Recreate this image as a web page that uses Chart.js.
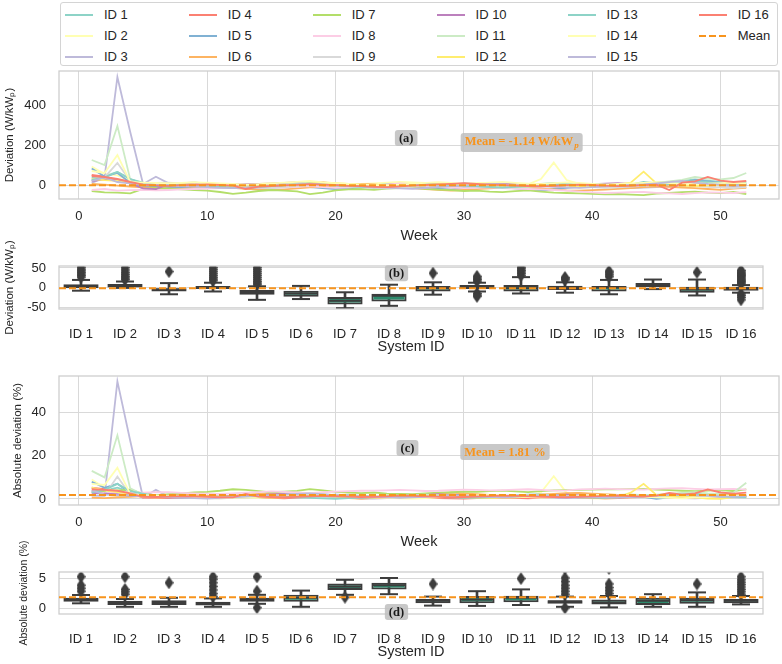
<!DOCTYPE html>
<html>
<head>
<meta charset="utf-8">
<script src="https://cdn.jsdelivr.net/npm/chart.js@4.4.1/dist/chart.umd.min.js"></script>
<style>
  body { margin: 0; background: #fff; font-family: "Liberation Sans", Arial, sans-serif; }
  #page { position: relative; width: 782px; height: 664px; overflow: hidden; }
  .panel { position: absolute; left: 0; width: 782px; }
  #legend {
    position: absolute; left: 60px; top: 2px; width: 718px; height: 64px; box-sizing: border-box;
    border: 1px solid #d4d4d4; border-radius: 3px; padding: 1px 0 0 4px;
    display: grid; grid-template-rows: repeat(3, 21px); grid-auto-flow: column;
    grid-auto-columns: max-content; column-gap: 61px;
  }
  .item { display: flex; align-items: center; font-size: 13px; color: #262626; }
  .swatch { width: 28px; height: 2px; margin-right: 11px; }
</style>
</head>
<body>
<div id="page">
  <div id="legend"></div>
  <div class="panel" style="top:66px;height:179px"><canvas id="chartA"></canvas></div>
  <div class="panel" style="top:228px;height:129px"><canvas id="chartB"></canvas></div>
  <div class="panel" style="top:360px;height:193px"><canvas id="chartC"></canvas></div>
  <div class="panel" style="top:530px;height:134px"><canvas id="chartD"></canvas></div>
</div>
<script>
// Data

const weeks = [1, 2, 3, 4, 5, 6, 7, 8, 9, 10, 11, 12, 13, 14, 15, 16, 17, 18, 19, 20, 21, 22, 23, 24, 25, 26,
  27, 28, 29, 30, 31, 32, 33, 34, 35, 36, 37, 38, 39, 40, 41, 42, 43, 44, 45, 46, 47, 48, 49, 50, 51, 52];
const weekTicks = [0, 10, 20, 30, 40, 50];
const systemIds = ["ID 1", "ID 2", "ID 3", "ID 4", "ID 5", "ID 6", "ID 7", "ID 8",
  "ID 9", "ID 10", "ID 11", "ID 12", "ID 13", "ID 14", "ID 15", "ID 16"];
const palette = ["#8dd3c7", "#ffffb3", "#bebada", "#fb8072", "#80b1d3", "#fdb462", "#b3de69", "#fccde5",
  "#d9d9d9", "#bc80bd", "#ccebc5", "#ffed6f", "#8dd3c7", "#ffffb3", "#bebada", "#fb8072"];

const meanDev = -1.14;
const meanAbs = 1.81;
const devTicks = [0, 200, 400];
const devBoxTicks = [-50, 0, 50];
const absTicks = [0, 20, 40];
const absBoxTicks = [0, 5];

// weekly deviation (W/kWp)
const dev1 = [35, 45, 65, 30, 5, 10, 8, 6, 4, 2, -1, -3, 0, 3, 5, 9, 12, 2, -2, -4, -5, 0, 4, 7, 10, 6, 1, -2, 3, 8, 5, 2, -1, 0, 3, 6, 9, 4, 1, -3, -6, -2, 3, 8, 12, 15, 20, 28, 22, 16, 10, 14];
const dev2 = [92, 55, 48, 22, 8, 6, 7, 9, 10, 12, 8, 5, 3, 6, 9, 11, 14, 10, 6, 4, 2, 5, 8, 12, 15, 13, 10, 7, 4, 6, 9, 11, 8, 5, 3, 30, 112, 25, 6, 2, 1, 3, 5, 7, 4, 2, 6, 10, 13, 9, 5, 3];
const dev3 = [10, 38, 540, 265, 5, 41, 8, 2, -2, -5, -8, -10, -6, -3, 0, 4, 12, 2, -4, -7, -9, -12, -6, -3, -1, -4, -8, -10, -5, -2, 0, -3, -6, -9, -11, -8, -4, -1, 3, 5, -2, -6, -16, -13, -10, -7, -4, -2, 2, -3, -6, -9];
const dev4 = [50, 42, 25, 18, 0, -3, 1, 4, 3, 5, 2, -2, -9, -5, 0, 3, 6, 9, 13, 7, 2, -1, -3, 1, 5, 3, -2, -6, -3, 0, 2, 4, 1, -1, 2, 5, 3, 0, -2, -4, -1, 2, 4, 8, 5, 1, -2, 0, 3, 6, 2, -1];
const dev5 = [83, 42, 60, 12, -5, -8, -10, -12, -14, -9, -6, -11, -15, -18, -13, -8, -5, -10, -16, -20, -17, -12, -9, -6, -4, -8, -13, -18, -22, -15, -10, -7, -12, -17, -21, -30, -19, -14, -9, -6, -3, -8, -12, -5, 3, 0, 8, 25, 18, 10, -2, 5];
const dev6 = [5, 2, -3, -8, -12, -15, -18, -20, -16, -12, -9, -14, -19, -23, -26, -22, -17, -12, -8, -5, -2, 5, 3, -4, -10, -15, -20, -24, -28, -25, -21, -17, -13, -10, -14, -18, -22, -27, -28, -26, -23, -19, -15, -11, -7, -9, -13, -16, -20, -24, -18, -14];
const dev7 = [-30, -37, -38, -42, -20, -15, -18, -22, -25, -28, -35, -44, -38, -30, -25, -28, -32, -46, -38, -27, -22, -20, -24, -18, -16, -14, -19, -23, -26, -30, -28, -33, -36, -31, -27, -33, -38, -40, -42, -44, -47, -45, -48, -51, -43, -40, -36, -33, -38, -41, -35, -45];
const dev8 = [-25, -20, -28, -26, -24, -27, -25, -22, -20, -18, -15, -12, -10, -14, -16, -13, -9, -5, -11, -14, -12, -8, -4, 2, 8, 4, -3, -10, -13, -16, -14, -12, -15, -18, -20, -22, -25, -28, -33, -37, -40, -38, -36, -35, -39, -42, -45, -41, -37, -38, -40, -36];
const dev9 = [30, 38, 110, 20, 5, 10, 12, 8, 14, 3, -2, -6, -9, -12, -15, -10, -5, 0, 3, -4, -8, -12, -16, -17, -14, -9, -4, 0, 2, -1, -5, -9, -13, -11, -7, -3, 1, -2, -6, -10, -14, -12, -8, -4, 0, 3, -1, -5, -9, -12, -15, -10];
const dev10 = [20, 28, 24, 8, -17, -21, 4, 6, 2, -1, -3, 0, 3, 5, 7, 10, 13, 12, 6, 2, -2, -5, -9, -4, 1, 4, 7, 5, 2, 0, 3, 6, 8, 5, 2, -1, -3, 0, 2, 4, 7, 9, 6, 3, 1, -2, 0, 3, 5, 2, -1, 2];
const dev11 = [125, 100, 295, 28, 10, 6, 2, -3, -7, -10, -12, -14, -9, -5, -1, 3, 8, 12, 7, 1, -3, -6, -9, -11, -8, -4, 0, 4, 1, -2, -5, -8, -10, -12, -9, -6, -3, 0, 3, 6, 2, -2, -5, 4, 10, 18, 25, 40, 32, 28, 35, 60];
const dev12 = [29, 24, 21, 10, 3, 5, 7, 4, 1, -2, -5, -8, -11, -6, -2, 1, 4, 8, 13, 9, 5, 2, 0, -3, -5, -1, 3, 6, 4, 1, -2, -4, -1, 2, 5, 3, 0, -3, -6, -4, -1, 2, 12, 67, 8, 1, -3, -5, -2, 1, 4, 2];
const dev13 = [25, 38, 65, 30, 12, 8, 4, 0, -3, -6, -9, -12, -16, -10, -5, -1, 3, 7, 2, -2, -6, -9, -12, -8, -4, 0, 4, 2, -1, -4, -7, -10, -13, -9, -5, -1, 3, 5, 1, -2, -6, -3, 2, 15, 8, 5, 10, 20, 14, 6, -1, 3];
const dev14 = [70, 60, 150, 15, 12, 10, 8, 11, 14, 9, 6, 3, 1, 4, 8, 12, 16, 21, 13, 9, 5, 2, -1, -3, 2, 7, 11, 14, 10, 6, 8, 12, 15, 11, 7, 4, 9, 13, 10, 6, 2, 5, 8, 11, 14, 10, 6, 3, 7, 9, 12, 8];
const dev15 = [20, 38, 15, 8, 3, 0, -2, -5, -8, -11, -14, -16, -12, -8, -4, 0, 3, 6, 2, -1, -4, -7, -10, -13, -17, -19, -15, -10, -6, -2, 1, 4, 2, -1, -3, -6, -9, -12, -14, -11, -7, -3, 0, 3, 8, 14, 21, 12, 6, 2, -2, 1];
const dev16 = [45, 40, 30, 15, 2, -2, -4, -1, 1, 3, 0, -3, -20, -8, -5, -2, 1, 4, 2, -1, -4, -6, -9, -11, -7, -3, 0, 3, 6, 9, 5, 2, -1, -3, -5, -7, -4, -1, 2, 0, -3, -6, -4, -1, 2, -25, 12, 18, 40, 22, 15, 20];

// weekly absolute deviation (%)
const abs1 = [3.6, 4.0, 5.2, 3.3, 1.2, 1.5, 1.4, 1.3, 1.1, 0.9, 1.0, 1.2, 1.4, 1.6, 1.8, 2.0, 2.2, 1.7, 1.5, 1.3, 1.1, 0.8, 1.0, 1.3, 1.6, 1.9, 1.7, 1.4, 1.2, 1.0, 1.1, 1.3, 1.5, 1.4, 1.2, 1.6, 1.8, 1.5, 1.3, 1.1, 0.9, 1.0, 1.2, 1.5, 1.7, 1.9, 2.1, 2.2, 1.8, 1.6, 1.4, 1.7];
const abs2 = [9.0, 5.2, 3.4, 2.4, 1.0, 0.8, 0.7, 0.9, 1.1, 1.2, 1.0, 0.8, 0.6, 0.5, 0.7, 0.9, 1.1, 1.3, 1.0, 0.7, 0.4, 0.3, 0.6, 0.9, 1.2, 1.4, 1.1, 0.8, 0.5, 0.4, 0.6, 0.9, 1.1, 0.8, 0.5, 3.0, 10.5, 2.8, 0.6, 0.3, 0.2, 0.4, 0.7, 1.0, 1.2, 0.9, 0.6, 0.8, 1.1, 1.3, 1.5, 1.0];
const abs3 = [1.6, 1.4, 54.5, 27.0, 0.6, 4.2, 1.0, 0.8, 0.6, 0.4, 0.3, 0.5, 0.8, 1.1, 1.3, 1.5, 1.7, 1.2, 0.9, 0.7, 0.5, 0.3, 0.2, 0.4, 0.7, 1.0, 1.2, 1.4, 1.1, 0.8, 0.6, 0.9, 1.2, 1.3, 1.0, 0.7, 0.5, 0.4, 0.6, 0.9, 1.1, 1.3, 1.5, 1.2, 0.9, 0.6, 0.4, 0.3, 0.5, 0.8, 1.0, 1.2];
const abs4 = [5.2, 4.6, 3.5, 2.6, 0.6, 0.5, 0.4, 0.7, 0.9, 1.0, 0.8, 0.6, 1.9, 0.9, 0.5, 0.3, 0.6, 1.0, 1.4, 0.8, 0.5, 0.3, 0.4, 0.6, 0.9, 1.1, 0.7, 0.4, 0.3, 0.2, 0.4, 0.6, 0.8, 0.5, 0.3, 0.6, 0.9, 1.1, 0.8, 0.5, 0.3, 0.4, 0.7, 1.0, 1.2, 0.8, 0.5, 0.7, 0.9, 1.3, 1.6, 0.9];
const abs5 = [8.0, 5.2, 7.0, 2.8, 1.2, 1.0, 1.3, 1.5, 1.6, 1.4, 1.1, 1.3, 1.6, 1.8, 1.5, 1.2, 1.0, 1.3, 1.7, 2.0, 1.8, 1.4, 1.1, 0.9, 0.7, 1.0, 1.4, 1.8, 2.2, 1.6, 1.2, 1.0, 1.3, 1.7, 2.0, 2.1, 1.8, 1.5, 1.2, 0.9, 0.8, 1.1, 1.4, 1.0, 0.05, 0.8, 1.2, 2.2, 1.9, 1.4, 1.1, 1.5];
const abs6 = [0.6, 0.4, 0.8, 1.0, 1.3, 1.6, 1.9, 2.1, 1.8, 1.4, 1.1, 1.5, 2.0, 2.3, 2.6, 2.2, 1.8, 1.4, 1.0, 0.7, 0.4, 0.2, 0.5, 0.9, 1.3, 1.7, 2.1, 2.4, 2.9, 2.6, 2.2, 1.9, 1.5, 1.2, 1.6, 2.0, 2.3, 2.7, 2.8, 2.5, 2.2, 1.9, 1.6, 1.2, 0.9, 1.1, 1.4, 1.7, 2.0, 2.3, 1.9, 1.6];
const abs7 = [3.2, 3.7, 4.0, 4.3, 2.4, 1.8, 2.2, 2.6, 3.0, 3.3, 3.8, 4.5, 4.2, 3.6, 3.1, 3.4, 3.7, 4.6, 4.0, 3.3, 2.9, 2.7, 3.0, 2.5, 2.3, 2.2, 2.6, 2.9, 3.1, 3.4, 3.3, 3.6, 3.9, 3.5, 3.2, 3.6, 4.0, 4.1, 4.2, 4.3, 4.5, 4.4, 4.6, 4.7, 4.3, 4.1, 3.8, 3.6, 3.9, 4.1, 3.7, 4.4];
const abs8 = [3.0, 2.6, 3.3, 3.1, 2.9, 3.2, 3.1, 2.8, 2.6, 2.5, 2.3, 2.6, 2.9, 3.2, 3.5, 3.3, 3.0, 2.7, 3.1, 3.4, 3.6, 3.8, 3.9, 4.0, 4.2, 4.0, 3.7, 3.8, 4.1, 4.3, 4.2, 4.0, 4.1, 4.3, 4.5, 4.2, 3.9, 4.0, 4.4, 4.6, 4.8, 4.6, 4.4, 4.3, 4.7, 4.9, 5.0, 4.7, 4.4, 4.5, 4.7, 4.3];
const abs9 = [4.0, 1.8, 10.4, 1.9, 1.2, 1.4, 1.5, 1.3, 1.1, 0.9, 0.8, 1.0, 1.2, 1.4, 1.6, 1.3, 1.1, 0.9, 0.7, 0.5, 0.4, 0.6, 0.8, 1.0, 1.2, 1.3, 1.1, 0.9, 1.0, 1.2, 1.4, 1.5, 1.3, 1.1, 0.9, 0.8, 1.0, 1.2, 1.4, 1.6, 1.8, 1.5, 1.3, 1.1, 0.9, 1.0, 1.2, 1.4, 1.5, 1.3, 1.1, 1.2];
const abs10 = [2.8, 2.5, 2.2, 1.6, 1.2, 1.0, 0.8, 0.6, 0.4, 0.6, 0.9, 1.2, 1.5, 1.8, 2.1, 2.4, 2.0, 1.7, 1.4, 1.1, 0.8, 0.5, 0.7, 1.0, 1.3, 1.6, 1.9, 2.2, 1.8, 1.5, 1.2, 0.9, 0.7, 0.9, 1.2, 1.5, 1.8, 2.0, 1.7, 1.4, 1.1, 0.8, 1.0, 1.3, 1.6, 1.9, 2.1, 1.8, 1.4, 1.2, 1.0, 1.3];
const abs11 = [13.0, 10.0, 29.5, 4.9, 2.0, 1.6, 1.3, 1.0, 0.8, 0.6, 0.5, 0.7, 1.0, 1.3, 1.6, 1.9, 2.2, 2.5, 2.1, 1.8, 1.5, 1.2, 0.9, 1.1, 1.4, 1.7, 2.0, 1.8, 1.5, 1.2, 1.0, 0.9, 1.2, 1.5, 1.8, 2.0, 1.7, 1.4, 1.1, 1.3, 1.6, 1.9, 2.1, 1.8, 2.0, 2.4, 2.8, 3.1, 2.6, 2.3, 2.9, 7.5];
const abs12 = [5.2, 4.0, 3.2, 2.5, 1.0, 0.8, 0.9, 1.1, 1.2, 1.0, 0.8, 0.7, 1.1, 0.9, 0.6, 0.7, 1.0, 1.2, 1.4, 1.1, 0.9, 0.7, 0.6, 0.8, 1.0, 1.2, 1.3, 1.1, 0.9, 0.7, 0.5, 0.4, 0.6, 0.8, 1.0, 1.2, 1.3, 1.1, 0.9, 0.7, 0.6, 0.8, 2.9, 7.0, 1.9, 1.2, 1.0, 0.8, 0.2, 0.0, 0.9, 1.1];
const abs13 = [3.0, 4.2, 7.0, 3.6, 2.5, 1.2, 0.9, 0.7, 0.5, 0.4, 0.6, 0.8, 1.0, 1.3, 1.1, 0.9, 0.7, 0.5, 0.3, 0.1, 0.4, 0.6, 0.8, 1.0, 1.2, 1.4, 1.1, 0.9, 0.7, 0.5, 0.6, 0.8, 1.0, 1.2, 1.4, 1.6, 1.3, 1.0, 0.8, 0.6, 0.5, 0.7, 0.9, 1.1, 1.4, 2.0, 1.8, 2.3, 1.5, 1.2, 0.9, 0.8];
const abs14 = [7.0, 6.5, 14.5, 2.2, 1.8, 1.5, 1.2, 0.9, 0.6, 0.4, 0.3, 0.5, 0.8, 1.1, 1.4, 1.7, 2.0, 2.3, 1.9, 1.6, 1.3, 1.0, 0.7, 0.5, 0.3, 0.2, 0.4, 0.7, 1.0, 1.3, 1.6, 1.8, 1.5, 1.2, 0.9, 0.6, 0.8, 1.1, 1.4, 1.7, 2.0, 1.7, 1.4, 1.1, 0.8, 0.5, 0.3, 0.6, 0.9, 1.2, 1.5, 1.3];
const abs15 = [4.0, 2.0, 1.8, 1.5, 1.2, 1.0, 0.8, 0.6, 0.4, 0.2, 0.5, 0.8, 1.1, 1.4, 1.7, 2.0, 2.3, 2.6, 2.2, 1.8, 1.5, 1.2, 0.9, 0.7, 0.5, 0.7, 1.0, 1.3, 1.6, 1.4, 1.2, 1.0, 0.8, 1.1, 1.4, 1.7, 1.5, 1.3, 1.1, 0.9, 0.7, 0.6, 0.9, 1.2, 1.5, 1.8, 2.1, 1.7, 1.4, 1.2, 1.0, 1.3];
const abs16 = [4.5, 4.2, 3.8, 2.6, 1.0, 0.9, 1.1, 1.3, 1.2, 1.0, 0.8, 0.7, 2.3, 1.1, 0.9, 0.8, 1.0, 1.2, 1.4, 1.3, 1.1, 0.9, 1.0, 1.2, 1.5, 1.4, 1.2, 1.0, 0.8, 0.9, 1.1, 1.3, 1.5, 1.4, 1.2, 1.0, 0.9, 0.8, 1.0, 1.2, 1.4, 1.6, 1.3, 1.1, 1.5, 2.8, 2.0, 2.6, 4.4, 3.0, 2.5, 2.9];

// boxplot summaries per system (deviation, W/kWp)
const devLo = [-7, 0, -16, -9, -30, -28, -51, -45, -17, -9, -14, -12, -16, -3, -19, -12];
const devQ1 = [-1, 1, -9, -3, -17, -22, -42, -34, -9, -3, -9, -5, -9, 2, -12, -7];
const devMed = [3, 6, -4, 1, -10, -14, -32, -20, -1, 2.5, -1, 1.5, 1, 8, -4, -1];
const devQ3 = [9, 10, -1, 5, -5, -7, -23, -15, 5, 7, 7, 5.5, 5, 12, 3, 3];
const devHi = [20, 16, 12, 13, 4, 5, -11, 8, 14, 13, 27, 14, 20, 21, 21, 7];
const devOutliers = [
  [27, 31, 35, 39, 43, 47, 52], [21, 25, 29, 34, 39, 45, 51], [41], [18, 22, 26, 31, 36, 41, 46, 51],
  [8, 12, 16, 21, 26, 31, 36, 41, 46, 51], [], [], [],
  [37], [17, 21, 25, 29, -14, -18, -21], [31, 36, 40, 44, 48, 52], [20, 23, 26],
  [28, 33, 38, 42], [], [39], [10, 13, 16, 19, 22, 25, 28, 31, 34, 37, 40, 44, -15, -19, -24, -30]
];

// boxplot summaries per system (absolute deviation, %)
const absLo = [0.78, 0.2, 0.2, 0.2, 0.7, 0.2, 2.2, 2.3, 0.4, 0.35, 0.5, 0.2, 0.1, 0.2, 0.2, 0.6];
const absQ1 = [1.06, 0.5, 0.5, 0.4, 1.06, 1.06, 3.0, 3.1, 0.8, 0.8, 0.95, 0.7, 0.6, 0.5, 0.7, 0.8];
const absMed = [1.44, 0.9, 0.95, 0.78, 1.4, 1.7, 3.6, 3.8, 1.2, 1.4, 1.7, 1.1, 0.9, 1.2, 1.3, 1.2];
const absQ3 = [1.72, 1.2, 1.3, 1.06, 1.72, 2.2, 4.1, 4.2, 1.5, 2.0, 2.05, 1.3, 1.4, 1.7, 1.7, 1.5];
const absHi = [2.17, 1.5, 1.7, 1.6, 2.2, 2.9, 4.7, 5.0, 1.9, 2.8, 3.1, 1.9, 2.0, 2.3, 2.6, 2.0];
const absOutliers = [
  [2.8, 3.3, 3.8, 5.2], [2.3, 2.7, 3.1, 5.2], [4.2], [1.9, 2.4, 3.0, 3.6, 4.2, 4.8, 5.2],
  [2.8, 5.2, 0.05], [], [1.8], [],
  [4.0], [], [4.9], [2.3, 2.8, 3.3, 3.8, 4.4, 5.0, 6.6, 0.0],
  [2.4, 2.9, 3.4, 4.0, 6.6], [], [4.0], [2.3, 2.7, 3.1, 3.5, 3.9, 4.3, 4.7, 5.2]
];

const devSeries = [dev1, dev2, dev3, dev4, dev5, dev6, dev7, dev8, dev9, dev10, dev11, dev12, dev13, dev14, dev15, dev16];
const absSeries = [abs1, abs2, abs3, abs4, abs5, abs6, abs7, abs8, abs9, abs10, abs11, abs12, abs13, abs14, abs15, abs16];

// Styles

const sans = '"Liberation Sans", Arial, sans-serif';
const serif = '"Liberation Serif", "Times New Roman", serif';
const ink = "#262626";
const gridColor = "#d9d9d9";
const frameColor = "#cccccc";
const boxFill = "#2d8a6c";
const boxEdge = "#3d3d3d";
const meanColor = "#f7941d";

Chart.defaults.font.family = sans;
Chart.defaults.color = ink;
Chart.defaults.animation = false;

// thin diamond used for the fliers
const diamond = document.createElement("canvas");
diamond.width = 9;
diamond.height = 13;
const dctx = diamond.getContext("2d");
dctx.fillStyle = boxEdge;
dctx.beginPath();
dctx.moveTo(4.5, 0);
dctx.lineTo(9, 6.5);
dctx.lineTo(4.5, 13);
dctx.lineTo(0, 6.5);
dctx.closePath();
dctx.fill();

// Plugins

const framePlugin = {
  id: "frame",
  afterDatasetsDraw(chart) {
    const { ctx, chartArea: a } = chart;
    ctx.save();
    ctx.strokeStyle = frameColor;
    ctx.lineWidth = 1.25;
    ctx.strokeRect(a.left, a.top, a.right - a.left, a.bottom - a.top);
    ctx.restore();
  },
};

const meanPlugin = {
  id: "meanLine",
  afterDatasetsDraw(chart, args, opts) {
    const { ctx, chartArea: a, scales } = chart;
    const py = scales.y.getPixelForValue(opts.value);
    ctx.save();
    ctx.strokeStyle = meanColor;
    ctx.lineWidth = 2;
    ctx.setLineDash([7, 3]);
    ctx.beginPath();
    ctx.moveTo(a.left, py);
    ctx.lineTo(a.right, py);
    ctx.stroke();
    ctx.restore();
  },
};

const notesPlugin = {
  id: "notes",
  afterDraw(chart, args, opts) {
    const { ctx, scales } = chart;
    (opts.items || []).forEach((n) => {
      const px = scales.x.getPixelForValue(n.x);
      const py = scales.y.getPixelForValue(n.y);
      const main = `bold 12.5px ${serif}`;
      const small = `italic bold 9px ${serif}`;
      ctx.save();
      ctx.font = main;
      const w1 = ctx.measureText(n.text).width;
      let w2 = 0;
      if (n.sub) {
        ctx.font = small;
        w2 = ctx.measureText(n.sub).width + 1;
      }
      const w = w1 + w2 + 8;
      const h = n.sub ? 19 : 16;
      const left = px - w / 2;
      ctx.fillStyle = "rgba(190,190,190,0.85)";
      ctx.beginPath();
      ctx.roundRect(left, py - h / 2, w, h, 3);
      ctx.fill();
      ctx.fillStyle = n.color || "#1a1a1a";
      ctx.textBaseline = "middle";
      ctx.textAlign = "left";
      ctx.font = main;
      ctx.fillText(n.text, left + 4, n.sub ? py - 1 : py + 0.5);
      if (n.sub) {
        ctx.font = small;
        ctx.fillText(n.sub, left + 4 + w1 + 1, py + 3.5);
      }
      ctx.restore();
    });
  },
};

// Chart builders

const fixedTicks = (values) => (scale) => {
  scale.ticks = values.map((v) => ({ value: v }));
};

const yScale = (p) => ({
  type: "linear",
  min: p.yMin,
  max: p.yMax,
  afterBuildTicks: fixedTicks(p.yTicks),
  afterFit: (scale) => {
    scale.width = 59;
    scale.paddingTop = 0;
    scale.paddingBottom = 0;
  },
  grid: { color: gridColor, lineWidth: 1, drawTicks: false },
  border: { display: false },
  ticks: { padding: 13, color: ink, font: { size: 13 } },
  title: {
    display: true,
    text: p.yTitle,
    color: ink,
    font: { size: p.yTitleSize || 11.5 },
    padding: { top: p.yTitlePad, bottom: 0 },
  },
});

const xTitle = (text, pad) => ({
  display: true,
  text: text,
  color: ink,
  font: { size: 14.5 },
  padding: { top: 0, bottom: pad },
});

const makeLineChart = (id, series, p) =>
  new Chart(document.getElementById(id), {
    type: "line",
    data: {
      datasets: series.map((vals, i) => ({
        label: systemIds[i],
        data: vals.map((v, j) => ({ x: weeks[j], y: v })),
        borderColor: palette[i],
        backgroundColor: palette[i],
        borderWidth: 1.8,
        pointRadius: 0,
        order: series.length - i,
      })),
    },
    options: {
      responsive: true,
      maintainAspectRatio: false,
      events: [],
      layout: { padding: { top: p.padTop, right: 3, left: 0, bottom: 0 } },
      plugins: {
        legend: { display: false },
        tooltip: { enabled: false },
        meanLine: { value: p.mean },
        notes: { items: p.notes },
      },
      scales: {
        x: {
          type: "linear",
          min: -1.55,
          max: 54.55,
          afterBuildTicks: fixedTicks(weekTicks),
          afterFit: (scale) => {
            scale.height = p.xHeight;
            scale.paddingLeft = 0;
            scale.paddingRight = 0;
          },
          grid: { color: gridColor, lineWidth: 1, drawTicks: false },
          border: { display: false },
          ticks: { padding: 10, color: ink, font: { size: 13 } },
          title: xTitle("Week", p.xTitlePad),
        },
        y: yScale(p),
      },
    },
    plugins: [framePlugin, meanPlugin, notesPlugin],
  });

const capSet = (vals, radius) => ({
  type: "line",
  data: vals,
  showLine: false,
  pointStyle: "line",
  pointRadius: radius,
  pointBorderWidth: 2,
  pointBorderColor: boxEdge,
  order: 2,
});

const makeBoxChart = (id, lo, q1, med, q3, hi, outliers, p) =>
  new Chart(document.getElementById(id), {
    type: "bar",
    data: {
      labels: systemIds,
      datasets: [
        {
          data: lo.map((v, i) => [v, hi[i]]),
          backgroundColor: boxEdge,
          barThickness: 2,
          grouped: false,
          order: 4,
        },
        {
          data: q1.map((v, i) => [v, q3[i]]),
          backgroundColor: boxFill,
          borderColor: boxEdge,
          borderWidth: 2,
          borderSkipped: false,
          barPercentage: 0.8,
          categoryPercentage: 1,
          grouped: false,
          order: 3,
        },
        capSet(med, 17),
        capSet(lo, 9),
        capSet(hi, 9),
        {
          type: "line",
          data: outliers.flatMap((arr, i) => arr.map((v) => ({ x: systemIds[i], y: v }))),
          showLine: false,
          pointStyle: diamond,
          pointRadius: 6,
          order: 1,
        },
      ],
    },
    options: {
      responsive: true,
      maintainAspectRatio: false,
      events: [],
      layout: { padding: { top: p.padTop, right: 3, left: 0, bottom: 0 } },
      plugins: {
        legend: { display: false },
        tooltip: { enabled: false },
        meanLine: { value: p.mean },
        notes: { items: p.notes },
      },
      scales: {
        x: {
          type: "category",
          offset: true,
          afterFit: (scale) => {
            scale.height = p.xHeight;
            scale.paddingLeft = 0;
            scale.paddingRight = 0;
          },
          grid: { display: false },
          border: { display: false },
          ticks: { padding: 10, color: ink, autoSkip: false, maxRotation: 0, font: { size: 13 } },
          title: xTitle("System ID", p.xTitlePad),
        },
        y: yScale(p),
      },
    },
    plugins: [framePlugin, meanPlugin, notesPlugin],
  });

// Legend

const legendBox = document.getElementById("legend");
const addLegendItem = (name, swatchStyle) => {
  const item = document.createElement("div");
  item.className = "item";
  item.innerHTML = `<span class="swatch" style="${swatchStyle}"></span><span>${name}</span>`;
  legendBox.appendChild(item);
};
systemIds.forEach((name, i) => addLegendItem(name, `background:${palette[i]}`));
addLegendItem("Mean", `background:repeating-linear-gradient(90deg, ${meanColor} 0 7px, transparent 7px 10px)`);

// Charts

makeLineChart("chartA", devSeries, {
  padTop: 5, xHeight: 46, xTitlePad: 0,
  yMin: -70, yMax: 570, yTicks: devTicks,
  yTitle: "Deviation (W/kWₚ)", yTitlePad: 3,
  mean: meanDev,
  notes: [
    { x: 25.5, y: 235, text: "(a)" },
    { x: 34.5, y: 212, text: `Mean = ${meanDev.toFixed(2)} W/kW`, sub: "p", color: meanColor },
  ],
});

makeBoxChart("chartB", devLo, devQ1, devMed, devQ3, devHi, devOutliers, {
  padTop: 38, xHeight: 48, xTitlePad: 1,
  yMin: -53, yMax: 55, yTicks: devBoxTicks,
  yTitle: "Deviation (W/kWₚ)", yTitlePad: 3,
  mean: meanDev,
  notes: [{ x: 7.17, y: 37, text: "(b)" }],
});

makeLineChart("chartC", absSeries, {
  padTop: 16, xHeight: 48, xTitlePad: 2,
  yMin: -2.8, yMax: 57, yTicks: absTicks,
  yTitle: "Absolute deviation (%)", yTitlePad: 11,
  mean: meanAbs,
  notes: [
    { x: 25.6, y: 23.6, text: "(c)" },
    { x: 33.2, y: 21.8, text: `Mean = ${meanAbs.toFixed(2)} %`, color: meanColor },
  ],
});

makeBoxChart("chartD", absLo, absQ1, absMed, absQ3, absHi, absOutliers, {
  padTop: 42, xHeight: 50, xTitlePad: 3,
  yMin: -1, yMax: 6, yTicks: absBoxTicks,
  yTitle: "Absolute deviation (%)", yTitlePad: 18, yTitleSize: 10.5,
  mean: meanAbs,
  notes: [{ x: 7.17, y: -0.67, text: "(d)" }],
});
</script>
</body>
</html>
